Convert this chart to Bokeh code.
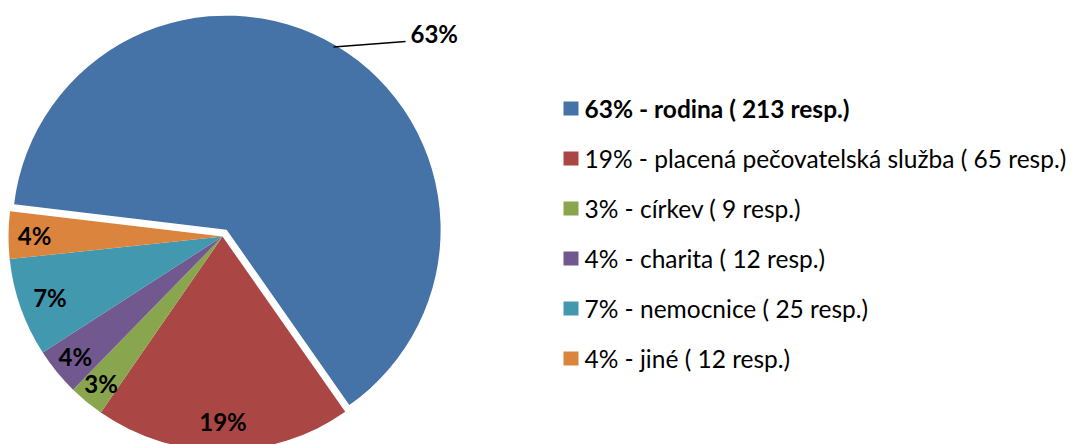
import numpy as np
from bokeh.plotting import figure
from bokeh.models import Range1d, ColumnDataSource
from bokeh.embed import file_html
from bokeh.resources import INLINE
from bokeh.core.properties import value

# ---- data ----
categories = ["rodina", "placená pečovatelská služba", "církev", "charita", "nemocnice", "jiné"]
respondents = [213, 65, 9, 12, 25, 12]
percent_labels = ["63%", "19%", "3%", "4%", "7%", "4%"]
legend_labels = [
    "63% - rodina ( 213 resp.)",
    "19% - placená pečovatelská služba ( 65 resp.)",
    "3% - církev ( 9 resp.)",
    "4% - charita ( 12 resp.)",
    "7% - nemocnice ( 25 resp.)",
    "4% - jiné ( 12 resp.)",
]
colors = ["#4572A7", "#AA4643", "#89A54E", "#71588F", "#4198AF", "#DB843D"]

# ---- layout / style ----
explode_px = [8, 0, 0, 0, 0, 0]
label_radius = [None, 185, 191, 190, 183, 188]
first_slice_deg = 276.8
W, H = 1073, 444
FONT = "Lato"


def X(sx):
    return sx


def Y(sy):
    return H - sy


cx, cy, R = X(222), Y(236), 214

vals = np.array(respondents, dtype=float)
frac = vals / vals.sum()
theta1 = first_slice_deg + np.concatenate([[0], np.cumsum(frac)[:-1]]) * 360
theta2 = theta1 + frac * 360
theta_mid = (theta1 + theta2) / 2

ox = np.array(explode_px) * np.sin(np.radians(theta_mid))
oy = np.array(explode_px) * np.cos(np.radians(theta_mid))

src = ColumnDataSource(dict(
    x=cx + ox, y=cy + oy,
    start=np.radians(90 - theta2), end=np.radians(90 - theta1),
    color=colors,
))

p = figure(width=W, height=H, x_range=Range1d(0, W), y_range=Range1d(0, H),
           output_backend="svg", toolbar_location=None,
           min_border=0, min_border_left=0, min_border_right=0,
           min_border_top=0, min_border_bottom=0)
p.axis.visible = False
p.grid.visible = False
p.outline_line_color = None
p.background_fill_color = "white"

p.wedge(x="x", y="y", radius=R, start_angle="start", end_angle="end",
        direction="anticlock", fill_color="color", line_color=None, source=src)

# inside labels
lx, ly, lt = [], [], []
for i in range(1, len(vals)):
    r = label_radius[i]
    lx.append(cx + r * np.sin(np.radians(theta_mid[i])))
    ly.append(cy + r * np.cos(np.radians(theta_mid[i])))
    lt.append(percent_labels[i])
p.text(x=lx, y=ly, text=lt, text_align="center", text_baseline="middle",
       text_font=value(FONT), text_font_style="bold", text_font_size="24px",
       text_color="black")

# outside label for the largest slice with leader line
bx = cx + ox[0] + R * np.sin(np.radians(theta_mid[0]))
by = cy + oy[0] + R * np.cos(np.radians(theta_mid[0]))
p.line(x=[bx - 3, X(405)], y=[by - 1, Y(41)], line_color="black", line_width=1.5)
p.text(x=[X(410)], y=[Y(33)], text=[percent_labels[0]], text_align="left",
       text_baseline="middle", text_font=value(FONT), text_font_style="bold",
       text_font_size="24px", text_color="black")

# legend
leg_y = [Y(108 + 50 * i) for i in range(len(legend_labels))]
p.rect(x=[X(570.5)] * len(colors), y=leg_y, width=15, height=14,
       fill_color=colors, line_color=None)
p.text(x=[X(584)], y=[leg_y[0]], text=[legend_labels[0]], text_align="left",
       text_baseline="middle", text_font=value(FONT), text_font_style="bold",
       text_font_size="24.5px", text_color="black")
p.text(x=[X(584)] * (len(legend_labels) - 1), y=leg_y[1:], text=legend_labels[1:],
       text_align="left", text_baseline="middle", text_font=value(FONT),
       text_font_size="24.5px", text_color="black")

open("out.html", "w").write(file_html(p, INLINE))
